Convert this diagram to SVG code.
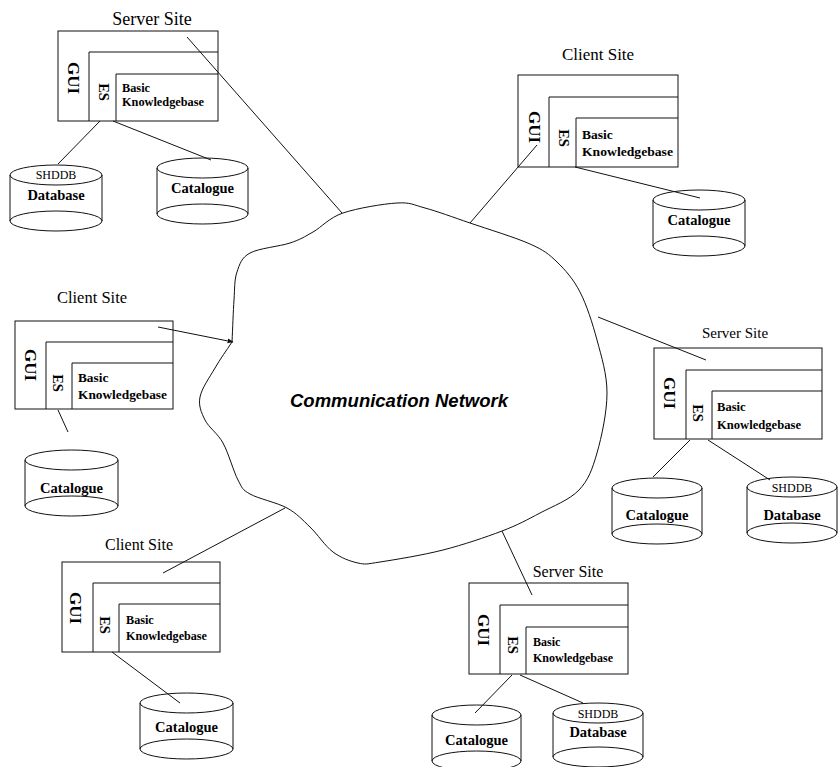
<svg xmlns="http://www.w3.org/2000/svg" width="839" height="767" viewBox="0 0 839 767">
<defs>
<style>
.s{fill:none;stroke:#111;stroke-width:1}
.t{font-family:"Liberation Serif","Times New Roman",serif;fill:#000}
.ti{text-anchor:middle}
.b{font-weight:bold}
.c{text-anchor:middle;font-weight:bold;font-size:14.5px}
.sh{text-anchor:middle;font-size:12px}
.r{text-anchor:middle;dominant-baseline:central;font-weight:bold}
.g{font-size:17px}
.e{font-size:14.5px}
</style>
<marker id="ah" viewBox="0 0 10 10" refX="9" refY="5" markerWidth="6" markerHeight="6" orient="auto" markerUnits="userSpaceOnUse">
<path d="M0,1 L10,5 L0,9 Z" fill="#111"/>
</marker>
</defs>
<rect width="839" height="767" fill="#fff"/>

<g id="network">
<path class="s" d="M232,342 C232.7,328 233.2,311.7 234,300 S234.3,279.8 237,272 S241.2,257.8 250,253 S279.5,246.5 290,243 S304.2,237 313,232 S329,217.8 343,213 S383.3,203.8 397,203 S412.8,204.7 425,208 S452.5,217 470,223 S515.5,237.5 530,244 S548.7,254 557,262 S573.3,279 580,292 S592.5,323.2 597,340 S607,374.2 607,393 S601.7,436.8 597,453 S588.5,480 579,490 S552.8,506.2 540,513 S518.2,524.8 502,531 S463.3,544.8 443,550 S394.2,559.8 380,562 S365.8,564.7 358,563 S341,558 333,552 S317.7,534.3 310,527 S297,513.5 287,508 S258.2,498.7 250,494 S242.5,488.5 238,480 S228.5,453 223,443 S208.8,427.7 205,420 S198.3,405.7 200,397 S209.7,377.2 215,368 S226.3,350.7 232,342 Z"/>
<text x="399" y="407" text-anchor="middle" font-family="'Liberation Sans',Arial,sans-serif" font-size="19" font-weight="bold" font-style="italic" textLength="218" lengthAdjust="spacingAndGlyphs">Communication Network</text>
</g>

<!-- Top-left Server Site -->
<g id="site-tl">
<text class="t ti" x="152" y="25" font-size="18">Server Site</text>
<rect class="s" x="58" y="31" width="160" height="90"/>
<path class="s" d="M89,121 V52 H218 M116,121 V74 H218"/>
<text class="t r g" transform="translate(73.5,78) rotate(90)">GUI</text>
<text class="t r e" transform="translate(104,92) rotate(90)">ES</text>
<text class="t b" x="122" y="92" font-size="12.3">Basic</text>
<text class="t b" x="122" y="106" font-size="12.3" textLength="82" lengthAdjust="spacingAndGlyphs">Knowledgebase</text>
</g>
<g id="db-tl">
<path class="s" d="M10,175 V221 M102,175 V221"/>
<ellipse class="s" cx="56" cy="175" rx="46" ry="10"/>
<ellipse class="s" cx="56" cy="221" rx="46" ry="10"/>
<text class="t sh" x="56" y="179">SHDDB</text>
<text class="t c" x="56" y="200">Database</text>
</g>
<g id="cat-tl">
<path class="s" d="M157,168 V214 M248,168 V214"/>
<ellipse class="s" cx="202.5" cy="168" rx="45.5" ry="10"/>
<ellipse class="s" cx="202.5" cy="214" rx="45.5" ry="10"/>
<text class="t c" x="202.5" y="193">Catalogue</text>
</g>

<!-- Top-right Client Site -->
<g id="site-tr">
<text class="t ti" x="598" y="60" font-size="17">Client Site</text>
<rect class="s" x="518" y="75" width="160" height="92"/>
<path class="s" d="M549,167 V97 H678 M576,167 V118 H678"/>
<text class="t r g" transform="translate(534,127) rotate(90)">GUI</text>
<text class="t r e" transform="translate(564,138) rotate(90)">ES</text>
<text class="t b" x="582" y="139" font-size="13.5">Basic</text>
<text class="t b" x="582" y="156" font-size="13.5" textLength="91" lengthAdjust="spacingAndGlyphs">Knowledgebase</text>
</g>
<g id="cat-tr">
<path class="s" d="M653,200 V246 M745,200 V246"/>
<ellipse class="s" cx="699" cy="200" rx="46" ry="10"/>
<ellipse class="s" cx="699" cy="246" rx="46" ry="10"/>
<text class="t c" x="699" y="225">Catalogue</text>
</g>

<!-- Left Client Site -->
<g id="site-l">
<text class="t ti" x="92" y="303" font-size="16.5">Client Site</text>
<rect class="s" x="15" y="321" width="158" height="88"/>
<path class="s" d="M46,409 V342 H173 M72,409 V363 H173"/>
<text class="t r g" transform="translate(30,365) rotate(90)">GUI</text>
<text class="t r e" transform="translate(58,383) rotate(90)">ES</text>
<text class="t b" x="78" y="382" font-size="13.3">Basic</text>
<text class="t b" x="78" y="399" font-size="13.3" textLength="89" lengthAdjust="spacingAndGlyphs">Knowledgebase</text>
</g>
<g id="cat-l">
<path class="s" d="M25,460 V506 M118,460 V506"/>
<ellipse class="s" cx="71.5" cy="460" rx="46.5" ry="10"/>
<ellipse class="s" cx="71.5" cy="506" rx="46.5" ry="10"/>
<text class="t c" x="71.5" y="493">Catalogue</text>
</g>

<!-- Right Server Site -->
<g id="site-r">
<text class="t ti" x="735" y="338" font-size="15">Server Site</text>
<rect class="s" x="654" y="348" width="168" height="91"/>
<path class="s" d="M686,439 V370 H822 M712,439 V391 H822"/>
<text class="t r g" transform="translate(669,393) rotate(90)">GUI</text>
<text class="t r e" transform="translate(698,413) rotate(90)">ES</text>
<text class="t b" x="717" y="411" font-size="12.6">Basic</text>
<text class="t b" x="717" y="429" font-size="12.6" textLength="84" lengthAdjust="spacingAndGlyphs">Knowledgebase</text>
</g>
<g id="cat-r">
<path class="s" d="M612,488 V534 M702,488 V534"/>
<ellipse class="s" cx="657" cy="488" rx="45" ry="10"/>
<ellipse class="s" cx="657" cy="534" rx="45" ry="10"/>
<text class="t c" x="657" y="520">Catalogue</text>
</g>
<g id="db-r">
<path class="s" d="M747,487 V533 M837,487 V533"/>
<ellipse class="s" cx="792" cy="487" rx="45" ry="10"/>
<ellipse class="s" cx="792" cy="533" rx="45" ry="10"/>
<text class="t sh" x="792" y="492">SHDDB</text>
<text class="t c" x="792" y="520">Database</text>
</g>

<!-- Bottom-left Client Site -->
<g id="site-bl">
<text class="t ti" x="139" y="550" font-size="16">Client Site</text>
<rect class="s" x="62" y="562" width="158" height="90"/>
<path class="s" d="M93,652 V583 H220 M119,652 V604 H220"/>
<text class="t r g" transform="translate(75,608) rotate(90)">GUI</text>
<text class="t r e" transform="translate(105,625) rotate(90)">ES</text>
<text class="t b" x="126" y="624" font-size="12.2">Basic</text>
<text class="t b" x="126" y="640" font-size="12.2" textLength="81" lengthAdjust="spacingAndGlyphs">Knowledgebase</text>
</g>
<g id="cat-bl">
<path class="s" d="M140,703 V749 M233,703 V749"/>
<ellipse class="s" cx="186.5" cy="703" rx="46.5" ry="10"/>
<ellipse class="s" cx="186.5" cy="749" rx="46.5" ry="10"/>
<text class="t c" x="186.5" y="732">Catalogue</text>
</g>

<!-- Bottom Server Site -->
<g id="site-b">
<text class="t ti" x="568" y="577" font-size="16">Server Site</text>
<rect class="s" x="469" y="583" width="159" height="91"/>
<path class="s" d="M500,674 V605 H628 M526,674 V627 H628"/>
<text class="t r g" transform="translate(483,630) rotate(90)">GUI</text>
<text class="t r e" transform="translate(513,645) rotate(90)">ES</text>
<text class="t b" x="533" y="646" font-size="12">Basic</text>
<text class="t b" x="533" y="662" font-size="12" textLength="80" lengthAdjust="spacingAndGlyphs">Knowledgebase</text>
</g>
<g id="cat-b">
<path class="s" d="M432,715 V761 M521,715 V761"/>
<ellipse class="s" cx="476.5" cy="715" rx="44.5" ry="10"/>
<ellipse class="s" cx="476.5" cy="761" rx="44.5" ry="10"/>
<text class="t c" x="476.5" y="745">Catalogue</text>
</g>
<g id="db-b">
<path class="s" d="M553,713 V757 M643,713 V757"/>
<ellipse class="s" cx="598" cy="713" rx="45" ry="10"/>
<ellipse class="s" cx="598" cy="757" rx="45" ry="10"/>
<text class="t sh" x="598" y="718">SHDDB</text>
<text class="t c" x="598" y="737">Database</text>
</g>

<g id="connectors" class="s">
<line x1="187" y1="37" x2="342" y2="213"/>
<line x1="100" y1="121" x2="58" y2="164"/>
<line x1="113" y1="121" x2="211" y2="160"/>
<line x1="537" y1="145" x2="470" y2="223"/>
<line x1="575" y1="167" x2="700" y2="198"/>
<line x1="158" y1="327" x2="233" y2="342" marker-end="url(#ah)"/>
<line x1="58" y1="410" x2="68" y2="432"/>
<line x1="598" y1="317" x2="706" y2="360"/>
<line x1="690" y1="440" x2="653" y2="477"/>
<line x1="708" y1="440" x2="770" y2="480"/>
<line x1="285" y1="508" x2="163" y2="573"/>
<line x1="112" y1="652" x2="180" y2="703"/>
<line x1="502" y1="531" x2="532" y2="595"/>
<line x1="512" y1="675" x2="475" y2="713"/>
<line x1="520" y1="675" x2="583" y2="703"/>
</g>
</svg>
